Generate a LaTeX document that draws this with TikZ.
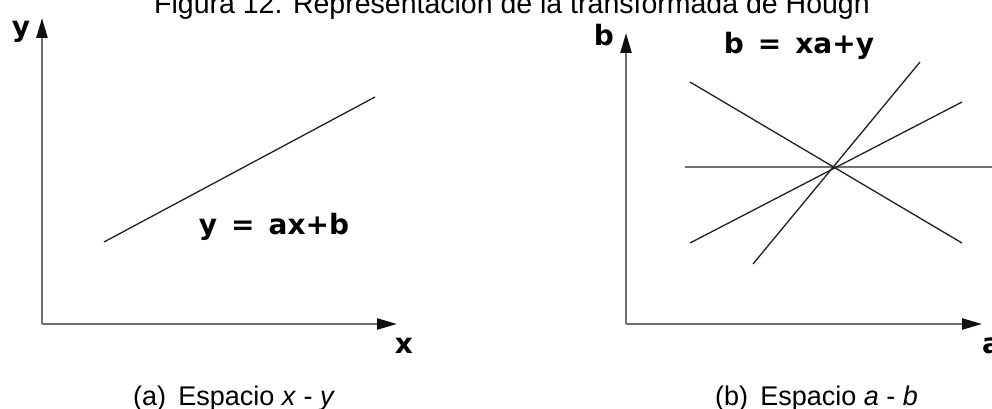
\documentclass[tikz,border=0pt]{standalone}
\usepackage{fontspec}
\setmainfont{Liberation Sans}
\newfontfamily\comicfont{DejaVu Sans}
\usetikzlibrary{arrows.meta}
\definecolor{axisgray}{HTML}{707070}
\definecolor{linedark}{HTML}{202020}
\definecolor{tipdark}{HTML}{101010}
\begin{document}
\begin{tikzpicture}[x=1pt,y=-1pt,
  axis/.style={draw=axisgray, line width=2.4pt, line cap=butt,
    -{Triangle[length=20pt,width=11pt,color=tipdark]}},
  thinline/.style={draw=linedark, line width=1.3pt},
  grayline/.style={draw=axisgray, line width=1.8pt},
  comic/.style={inner sep=0pt, anchor=base, font=\comicfont\bfseries\fontsize{28}{30}\selectfont},
  captxt/.style={inner sep=0pt, anchor=base west, font=\fontsize{27}{30}\selectfont},
  titletxt/.style={inner sep=0pt, anchor=base west, font=\fontsize{28.5}{31}\selectfont}]
\useasboundingbox (0,0) rectangle (992,409);
\clip (0,0) rectangle (992,409);
\fill[white] (0,0) rectangle (992,409);

% title (cut at top)
\node[titletxt] (title) at (154,14) {Figura 12. Representación de la transformada de Hough};

% ---- left panel ----
\coordinate (oL) at (42,324);
\coordinate (yTip) at (42,18);
\coordinate (xTip) at (397,324);
\draw[axis] (oL) -- (yTip);
\draw[axis] (oL) -- (xTip);
\node[comic] (ylab) at (21,37) {y};
\node[comic] (xlab) at (404,353) {x};
\coordinate (l1a) at (104,242);
\coordinate (l1b) at (375,97);
\draw[thinline] (l1a) -- (l1b);
\node[comic] (eqL) at (274,234) {y\hspace{0.5em}=\hspace{0.5em}ax+b};
\node[captxt] (capA) at (133,405) {(a)\hspace{0.45em}Espacio \textit{x} - \textit{y}};

% ---- right panel ----
\coordinate (oR) at (626,324);
\coordinate (bTip) at (626,33);
\coordinate (aTip) at (982,324);
\draw[axis] (oR) -- (bTip);
\draw[axis] (oR) -- (aTip);
\node[comic] (blab) at (604,46) {b};
\node[comic, anchor=base west] (alab) at (982,353) {a};
\node[comic] (eqR) at (799,54) {b\hspace{0.5em}=\hspace{0.5em}xa+y};
\coordinate (h1) at (685,167);
\coordinate (h2) at (1000,167);
\coordinate (d1) at (690,82);
\coordinate (d2) at (962,243);
\coordinate (s1) at (690,243);
\coordinate (s2) at (962,102);
\coordinate (t1) at (753,264);
\coordinate (t2) at (920,62);
\draw[grayline] (h1) -- (h2);
\draw[thinline] (d1) -- (d2);
\draw[thinline] (s1) -- (s2);
\draw[thinline] (t1) -- (t2);
\node[captxt] (capB) at (715,405) {(b)\hspace{0.45em}Espacio \textit{a} - \textit{b}};
\end{tikzpicture}
\end{document}
